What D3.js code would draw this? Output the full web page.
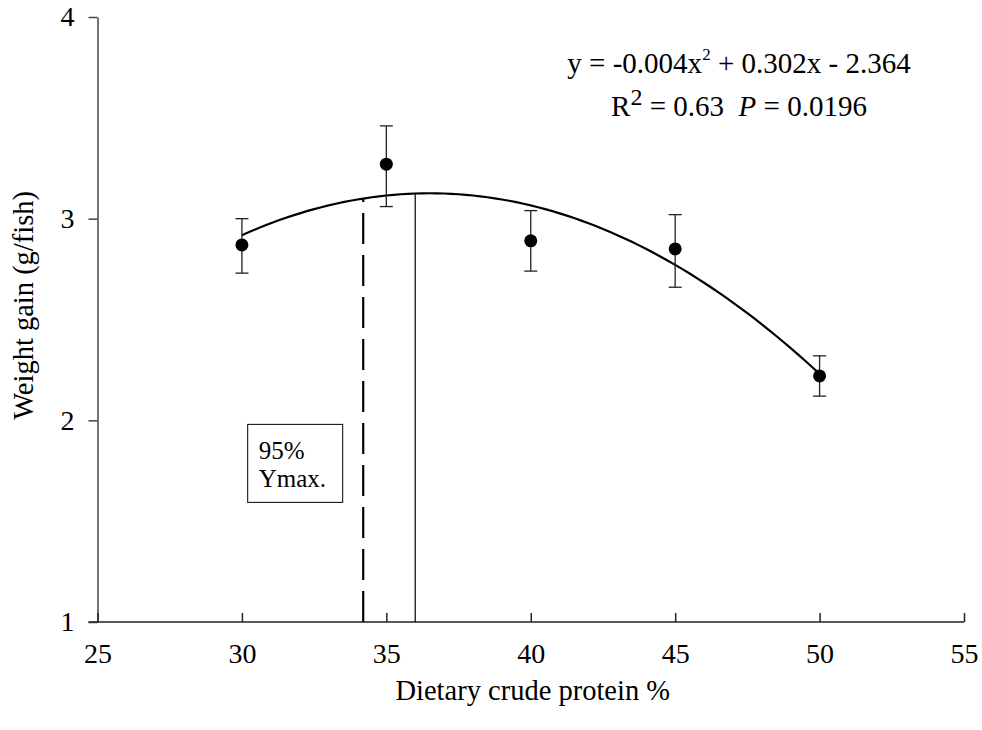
<!DOCTYPE html>
<html>
<head>
<meta charset="utf-8">
<script src="https://cdn.jsdelivr.net/npm/d3@7"></script>
<style>
  body { margin: 0; background: #fff; }
  text { font-family: "Liberation Serif", "Times New Roman", serif; fill: #000; }
</style>
</head>
<body>
<script>
// data
const protein = [30, 35, 40, 45, 50];
const gain = [2.87, 3.27, 2.89, 2.85, 2.22];
const errUpper = [3.00, 3.46, 3.04, 3.02, 2.32];
const errLower = [2.73, 3.06, 2.74, 2.66, 2.12];
const xTicks = [25, 30, 35, 40, 45, 50, 55];
const yTicks = [1, 2, 3, 4];
const ymax95 = 34.2;   // 95% Ymax (dashed)
const ymaxX = 36.0;    // Ymax (solid)

const width = 982, height = 730;

const svg = d3.select("body").append("svg")
    .attr("width", width)
    .attr("height", height);

const x = d3.scaleLinear().domain([25, 55]).range([97.5, 964]);
const y = d3.scaleLinear().domain([1, 4]).range([622, 17]);

// quadratic least squares fit of the means
function fitQuad(xs, ys) {
    let S = [[0,0,0],[0,0,0],[0,0,0]], b = [0,0,0];
    xs.forEach((xi, i) => {
        const p = [1, xi, xi * xi];
        for (let r = 0; r < 3; r++) {
            b[r] += p[r] * ys[i];
            for (let c = 0; c < 3; c++) S[r][c] += p[r] * p[c];
        }
    });
    for (let k = 0; k < 3; k++) {
        for (let r = k + 1; r < 3; r++) {
            const f = S[r][k] / S[k][k];
            for (let c = k; c < 3; c++) S[r][c] -= f * S[k][c];
            b[r] -= f * b[k];
        }
    }
    const coef = [0,0,0];
    for (let r = 2; r >= 0; r--) {
        let s = b[r];
        for (let c = r + 1; c < 3; c++) s -= S[r][c] * coef[c];
        coef[r] = s / S[r][r];
    }
    return v => coef[0] + coef[1] * v + coef[2] * v * v;
}
const fit = fitQuad(protein, gain);

// axes
const yAxis = d3.axisLeft(y).tickValues(yTicks).tickFormat(d3.format("d"))
    .tickSize(9).tickSizeOuter(0).tickPadding(14);
const gy = svg.append("g").attr("transform", `translate(${x(25)},0)`).call(yAxis);
gy.selectAll("text").style("font-size", "28px").attr("font-family", null);
gy.selectAll("line, path").attr("stroke", "#444").attr("stroke-width", 1.5);

const xAxis = d3.axisBottom(x).tickValues(xTicks).tickFormat(d3.format("d"))
    .tickSize(-9).tickSizeOuter(0).tickPadding(21);
const gx = svg.append("g").attr("transform", `translate(0,${y(1)})`).call(xAxis);
gx.select(".domain").remove();
gx.selectAll("text").style("font-size", "28px").attr("font-family", null);
gx.selectAll("line").attr("stroke", "#222").attr("stroke-width", 1.5);
gx.append("line")
    .attr("x1", x(25) - 9).attr("x2", x(55))
    .attr("stroke", "#222").attr("stroke-width", 1.5);

// axis titles
svg.append("text")
    .attr("transform", `translate(33,${y(2.57)}) rotate(-90)`)
    .attr("text-anchor", "middle")
    .style("font-size", "28.5px")
    .text("Weight gain (g/fish)");

svg.append("text")
    .attr("x", x(40) + 2).attr("y", 700)
    .attr("text-anchor", "middle")
    .style("font-size", "28.5px")
    .text("Dietary crude protein %");

// vertical reference lines
svg.append("line")
    .attr("x1", x(ymax95)).attr("x2", x(ymax95))
    .attr("y1", y(1)).attr("y2", y(fit(ymax95)))
    .attr("stroke", "#000").attr("stroke-width", 2.2)
    .attr("stroke-dasharray", "31,11");

svg.append("line")
    .attr("x1", x(ymaxX)).attr("x2", x(ymaxX))
    .attr("y1", y(1)).attr("y2", y(fit(ymaxX)))
    .attr("stroke", "#000").attr("stroke-width", 1.2);

// fitted curve
const curveX = d3.range(30, 50.001, 0.25);
svg.append("path")
    .datum(curveX)
    .attr("fill", "none")
    .attr("stroke", "#000")
    .attr("stroke-width", 2.2)
    .attr("d", d3.line().x(d => x(d)).y(d => y(fit(d))));

// error bars
const eb = svg.append("g").attr("stroke", "#222").attr("stroke-width", 1.3);
protein.forEach((p, i) => {
    eb.append("line").attr("x1", x(p)).attr("x2", x(p)).attr("y1", y(errLower[i])).attr("y2", y(errUpper[i]));
    eb.append("line").attr("x1", x(p) - 6.5).attr("x2", x(p) + 6.5).attr("y1", y(errLower[i])).attr("y2", y(errLower[i]));
    eb.append("line").attr("x1", x(p) - 6.5).attr("x2", x(p) + 6.5).attr("y1", y(errUpper[i])).attr("y2", y(errUpper[i]));
});

// points
svg.selectAll("circle.pt").data(protein).enter()
    .append("circle")
    .attr("class", "pt")
    .attr("cx", d => x(d))
    .attr("cy", (d, i) => y(gain[i]))
    .attr("r", 6.5)
    .attr("fill", "#000");

// 95% Ymax box
const bx = x(30.2), by = y(1.98);
svg.append("rect")
    .attr("x", bx).attr("y", by)
    .attr("width", 95).attr("height", 78)
    .attr("fill", "#fff").attr("stroke", "#000").attr("stroke-width", 1);
svg.append("text").attr("x", bx + 11).attr("y", by + 35).style("font-size", "25px").text("95%");
svg.append("text").attr("x", bx + 11).attr("y", by + 63).style("font-size", "25px").text("Ymax.");

// equation
const eq = svg.append("text")
    .attr("x", 739).attr("y", 73)
    .attr("text-anchor", "middle")
    .style("font-size", "29px");
eq.append("tspan").text("y = -0.004x");
eq.append("tspan").attr("dy", -13).style("font-size", "17px").text("2");
eq.append("tspan").attr("dy", 13).text(" + 0.302x - 2.364");

const r2 = svg.append("text")
    .attr("x", 739).attr("y", 116)
    .attr("text-anchor", "middle")
    .style("font-size", "29px")
    .attr("xml:space", "preserve");
r2.append("tspan").text("R");
r2.append("tspan").attr("dy", -11).style("font-size", "24px").text("2");
r2.append("tspan").attr("dy", 11).text(" = 0.63  ");
r2.append("tspan").style("font-style", "italic").text("P");
r2.append("tspan").text(" = 0.0196");
</script>
</body>
</html>
